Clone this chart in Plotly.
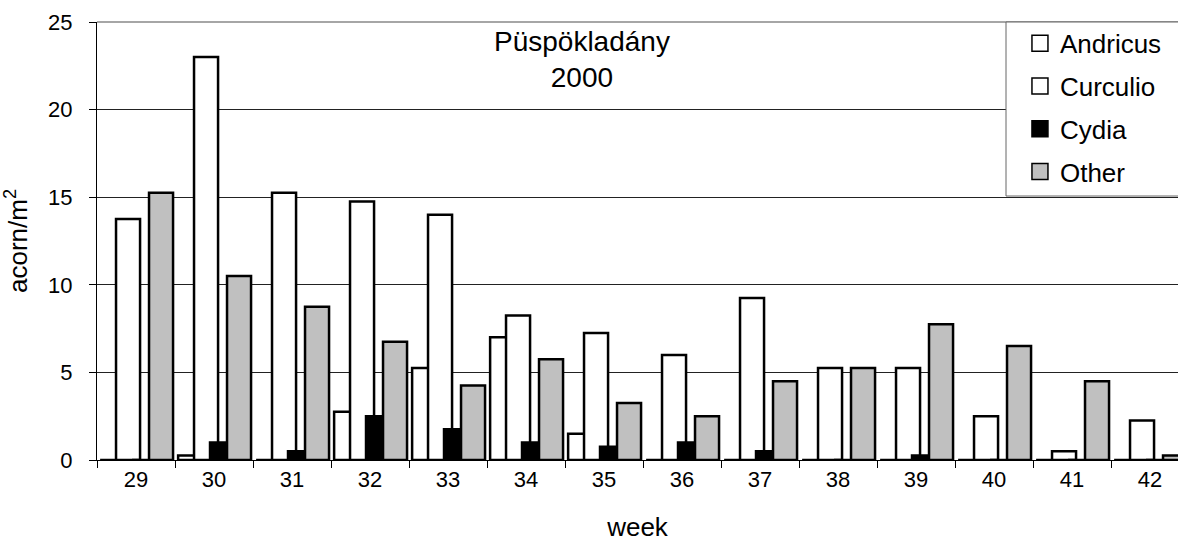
import plotly.graph_objects as go

weeks = ["29", "30", "31", "32", "33", "34", "35", "36", "37", "38", "39", "40", "41", "42"]
andricus = [0, 0.25, 0, 2.75, 5.25, 7, 1.5, 0, 0, 0, 0, 0, 0, 0]
curculio = [13.75, 23, 15.25, 14.75, 14, 8.25, 7.25, 6, 9.25, 5.25, 5.25, 2.5, 0.5, 2.25]
cydia = [0, 1, 0.5, 2.5, 1.75, 1, 0.75, 1, 0.5, 0, 0.25, 0, 0, 0]
other = [15.25, 10.5, 8.75, 6.75, 4.25, 5.75, 3.25, 2.5, 4.5, 5.25, 7.75, 6.5, 4.5, 0.25]

series_names = ["Andricus", "Curculio", "Cydia", "Other"]
series_values = [andricus, curculio, cydia, other]
series_colors = ["#FFFFFF", "#FFFFFF", "#000000", "#C0C0C0"]
bar_offsets = [-0.46, -0.256, -0.051, 0.167]
bar_width = 0.308

FONT = "Liberation Sans, Arial, sans-serif"

fig = go.Figure()
for name, vals, color, off in zip(series_names, series_values, series_colors, bar_offsets):
    fig.add_bar(x=weeks, y=vals, name=name, offset=off, width=bar_width,
                marker=dict(color=color, line=dict(color="black", width=2.5)),
                showlegend=False)

# legend entries with larger square swatches
for name, color in zip(series_names, series_colors):
    fig.add_scatter(x=[None], y=[None], mode="markers", name=name, legendgroup=name,
                    marker=dict(symbol="square", size=16, color=color,
                                line=dict(color="black", width=1.5)))

fig.update_layout(
    width=1178, height=542,
    margin=dict(l=97, r=0, t=22, b=82),
    paper_bgcolor="white", plot_bgcolor="white",
    barmode="overlay",
    font=dict(family=FONT, size=22, color="black"),
    showlegend=True,
    legend=dict(x=0.8538, xanchor="left", y=1.005, yanchor="top",
                bgcolor="rgba(0,0,0,0)", borderwidth=0,
                font=dict(size=26), traceorder="grouped", tracegroupgap=6,
                itemclick=False),
    xaxis=dict(type="category", range=[-0.5, 13.359], tickson="boundaries",
               showline=True, linecolor="black", linewidth=1,
               ticks="outside", ticklen=7, tickcolor="black",
               showgrid=False, zeroline=False,
               title=dict(text="week", standoff=27),
               tickfont=dict(size=22)),
    yaxis=dict(range=[0, 25], dtick=5, tick0=0,
               showline=True, linecolor="black", linewidth=1,
               ticks="outside", ticklen=7, tickcolor="black",
               ticklabelstandoff=12,
               showgrid=True, gridcolor="#222222", gridwidth=1,
               zeroline=False,
               title=dict(text="acorn/m<sup>2</sup>", standoff=16),
               tickfont=dict(size=22)),
)

# top border line of the plot area
fig.add_shape(type="line", xref="paper", yref="paper", x0=0, x1=1, y0=1, y1=1,
              line=dict(color="#888888", width=1.5), layer="below")

# legend frame (right side runs off the page as in the original)
fig.add_shape(type="rect", xref="paper", yref="paper",
              x0=0.8409, x1=1.05, y0=0.6027, y1=1.0,
              line=dict(color="#666666", width=1), fillcolor="white", layer="above")

fig.add_annotation(text="Püspökladány<br>2000", xref="paper", yref="paper",
                   x=0.4487, y=0.995, xanchor="center", yanchor="top",
                   showarrow=False, font=dict(size=28), align="center")

fig.write_html("out.html", config={"displayModeBar": False},
               post_script="document.body.style.margin='0';document.body.style.overflow='hidden';")
